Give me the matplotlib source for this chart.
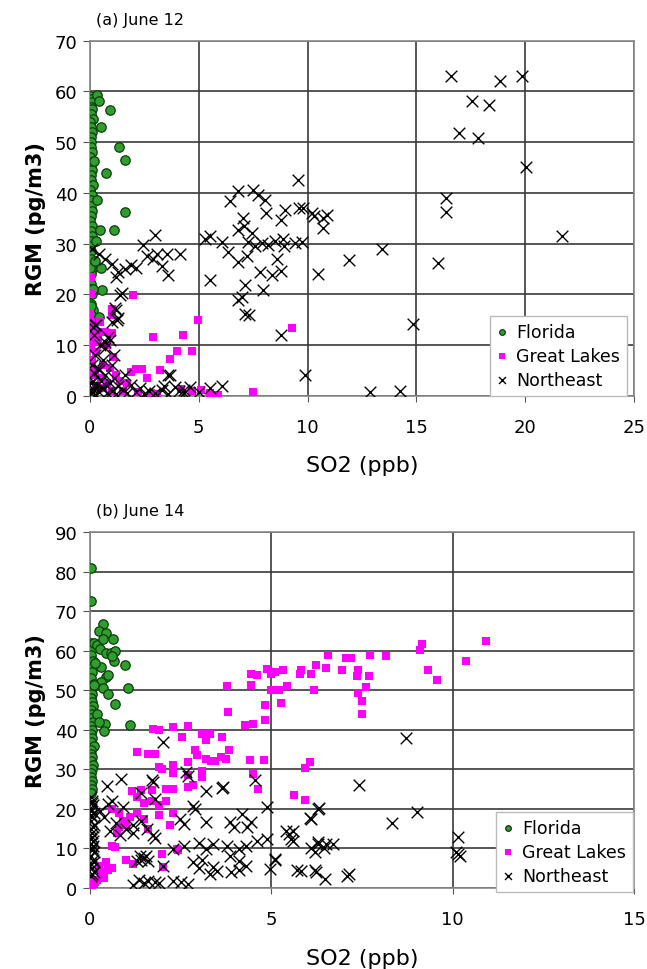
import matplotlib
matplotlib.use("Agg")
import matplotlib.pyplot as plt

# ---------------- data: (a) June 12 ----------------
a_fl_x = [0.02, 0.05, 0.1, 0.03, 0.08, 0.04, 0.12, 0.02, 0.06, 0.1, 0.03, 0.07, 0.05, 0.11, 0.02, 0.08,
          0.04, 0.1, 0.03, 0.06, 0.12, 0.02, 0.09, 0.05, 0.03, 0.1, 0.06, 0.02, 0.08, 0.04, 0.11, 0.05,
          0.02, 0.07, 0.03, 0.1, 0.04, 0.06, 0.02, 0.08, 0.05, 0.12, 0.03, 0.07,
          0.31, 0.43, 0.92, 0.5, 1.33, 1.61, 0.72, 0.31, 1.61, 0.2, 0.46, 1.1, 0.3, 0.0, 0.5, 0.57,
          0.05, 0.41, 0.15, 0.25]
a_fl_y = [59, 58.5, 58, 57, 56.5, 55.5, 54.5, 54, 53, 52, 51, 50, 49, 48, 47, 46,
          45.5, 44.5, 43.5, 42.5, 41.5, 40.5, 39.5, 38.5, 37.5, 36.5, 35.5, 34.5, 33.5, 32.5, 31.5, 30.5,
          29.5, 28.5, 27, 25, 24, 22, 21, 20, 18, 17, 16, 15,
          59.2, 58.2, 56.3, 52.9, 49.1, 46.5, 44.0, 38.6, 36.3, 46.2, 32.7, 32.7, 30.6, 25.1, 25.1, 20.8,
          17.6, 15.6, 21, 26.5]

a_gl_x = [0.05, 0.05, 1.99, 0.02, 0.05, 0.46, 1.0, 1.0, 0.05, 0.4, 0.7, 1.0, 0.03, 0.3, 1.07, 0.1,
          0.62, 1.2, 1.9, 2.1, 2.4, 2.6, 3.2, 2.88, 4.26, 4.98, 3.98, 4.7, 3.68, 9.27, 7.5, 5.9,
          5.5, 5.1, 0.3, 0.6, 1.0, 1.5, 2.2, 2.8, 3.1, 4.2, 4.7, 0.15, 0.5, 0.8, 0.2, 0.8, 0.12, 0.9,
          0.35, 0.25, 1.4, 1.7]
a_gl_y = [23.5, 20.2, 19.8, 16.2, 14.6, 14.6, 15.9, 17.1, 11.9, 12.5, 12.5, 12.3, 9.3, 8.6, 7.6, 7,
          6, 4, 4.7, 5.3, 5.3, 3.4, 5.1, 11.6, 11.9, 15, 8.8, 8.8, 7.3, 13.4, 0.7, 0.1,
          0.5, 1.2, 2, 1.5, 1, 1, 0.8, 0.5, 0.3, 1.3, 1, 4, 3.5, 2.5, 10.5, 10, 13, 5.5,
          11, 5, 3, 2.5]

a_ne_x = [16.58, 18.84, 19.87, 17.54, 18.32, 16.97, 17.82, 20.02, 16.36, 16.36, 21.7, 16.0, 13.4, 11.9,
          10.5, 14.86, 9.88, 12.87, 14.25, 10.72, 10.88, 10.19, 9.6, 10.7, 9.73,
          9.57, 6.82, 7.5, 7.7, 8.04, 6.43, 8.1, 8.96, 9.8, 10.3, 8.8, 7.05, 7.1, 6.8, 7.43, 5.28, 5.5,
          6.05, 6.36, 7.27, 7.6, 7.9, 8.2, 8.5, 8.85, 8.9, 9.4, 6.82, 7.2, 7.81, 8.35, 8.8, 8.6,
          5.51, 7.12, 7.96, 6.82, 7.12, 8.8, 7.0, 7.3,
          0.08, 0.4, 0.69, 1.0, 1.3, 1.2, 1.6, 1.9, 2.1, 2.45, 2.99, 2.6, 2.9, 3.1, 3.52, 4.14, 3.3, 3.6,
          1.46, 1.38, 1.15, 1.3, 0.23, 0.7, 0.85, 1.0, 1.6, 3.6, 3.4, 1.23, 1.2, 1.1,
          0.05, 0.1, 0.15, 0.2, 0.1, 0.3, 0.4, 0.5, 0.6, 0.7, 0.8, 0.9, 1.0, 1.1, 1.2, 1.3, 1.5, 1.7,
          1.9, 2.1, 2.3, 2.5, 2.7, 3.0, 3.3, 3.6, 3.9, 4.3, 4.6, 5.0, 5.5, 6.05, 3.68, 4.1, 4.3, 0.25,
          0.45, 0.7, 0.2, 0.3, 0.9, 1.0, 0.15, 0.35, 0.6, 0.05, 0.25, 0.5, 0.15, 0.4]
a_ne_y = [63.0, 62.0, 63.1, 58.2, 57.4, 51.9, 50.8, 45.1, 38.9, 36.3, 31.4, 26.1, 29.0, 26.7,
          24.1, 14.2, 4.0, 0.7, 1.0, 33.0, 35.6, 36, 37, 35, 30.4,
          42.5, 40.3, 40.6, 39.5, 38.6, 38.3, 36, 36.6, 37, 35.5, 34.6, 35, 33.4, 32.7, 32, 31, 31.4,
          30.4, 28.4, 30.4, 29.5, 30.2, 29.8, 30.5, 31, 29.6, 30.2, 26.4, 27.5, 24.4, 23.8, 24.5, 27,
          22.8, 21.8, 20.8, 18.8, 16.2, 11.9, 19.4, 15.9,
          29, 28, 27, 26, 24.4, 23.5, 25, 25.8, 25.2, 29.7, 31.7, 27.5, 27, 28, 28, 28, 25.5, 23.8,
          20.2, 19.8, 17.2, 15.4, 13.9, 10.5, 11.5, 6, 4, 4, 2, 14.9, 17, 8,
          0.5, 1.5, 3, 4.5, 6, 2, 0.8, 3, 1.5, 4, 0.5, 2.5, 1, 3.5, 0.3, 2, 1.2, 0.5,
          2.2, 0.8, 1.5, 0.3, 1, 0.5, 1.2, 0.3, 1.8, 0.6, 1.7, 0.8, 1.5, 2, 4, 1, 1.2, 8,
          10, 9.5, 12, 14, 11, 14.5, 13.5, 5.5, 7, 2.5, 0.2, 1.8, 0.8, 5]

# ---------------- data: (b) June 14 ----------------
b_fl_x = [0.02, 0.05, 0.03, 0.08, 0.02, 0.06, 0.04, 0.1, 0.03, 0.07, 0.02, 0.05, 0.08, 0.03, 0.06,
          0.02, 0.09, 0.04, 0.05, 0.02, 0.07, 0.03, 0.1, 0.04, 0.02, 0.06, 0.03, 0.08, 0.05, 0.02,
          0.04, 0.07, 0.03, 0.05, 0.02,
          0.02, 0.02, 0.37, 0.25, 0.45, 0.12, 0.2, 0.35, 0.64, 0.27, 0.45, 0.58, 0.67, 0.3, 0.15,
          0.96, 0.43, 0.3, 0.1, 0.35, 1.06, 0.5, 0.69, 0.2, 1.1, 0.41, 0.4, 0.25, 0.69, 0.6, 0.5]
b_fl_y = [62, 60.5, 59, 57.5, 56, 54.5, 53, 51.5, 50, 49, 48, 47, 46, 45, 44,
          43, 42, 41, 40, 39, 38, 37, 36, 35, 34, 33, 32, 31, 30, 29,
          28, 27, 26, 25, 24,
          81, 72.6, 66.7, 65, 64.5, 62, 61.5, 63, 63, 60.5, 59.5, 59.5, 57.5, 56, 57,
          56.3, 53.3, 52, 51.3, 50.5, 50.6, 49, 46.6, 44, 41.3, 41.5, 39.8, 42, 60, 58.6, 53.8]

b_gl_x = [10.93, 9.16, 9.09, 10.38, 9.32, 9.57, 8.17, 7.71, 7.2, 7.05, 6.55, 6.24, 6.5, 6.96, 7.4,
          7.37, 7.7, 7.6, 7.4, 7.51, 7.51, 5.83, 6.1, 5.8, 5.33, 5.1, 5.44, 5.2, 6.17, 5.28, 6.08,
          5.94, 5.62, 5.92,
          4.87, 4.45, 4.6, 4.99, 3.77, 4.43, 5.0, 4.82, 3.81, 4.27, 4.5, 4.82, 1.74, 1.9, 2.3, 2.71,
          2.55, 3.1, 3.3, 3.2, 3.65, 3.83, 2.89, 3.2, 3.35, 3.45, 3.6, 3.75, 2.95, 1.29, 1.6, 1.8,
          2.71, 4.41, 4.8, 1.9, 2.0, 2.3, 2.3, 2.7, 3.1, 3.1, 4.5, 4.64,
          1.15, 1.4, 1.7, 2.1, 2.3, 2.7, 2.85, 1.3, 1.5, 1.7, 1.9, 2.1, 0.6, 0.8,
          0.9, 1.1, 0.8, 1.0, 1.3, 1.5, 1.6, 1.9, 2.2, 2.3, 0.74, 0.61, 2.39, 2.0, 2.43, 2.02, 0.69,
          0.2, 0.35, 0.1, 0.05, 0.5, 0.15, 0.3, 0.4, 0.25, 0.6, 1.2, 1.0, 0.45]
b_gl_y = [62.4, 61.8, 60.1, 57.3, 55.0, 52.7, 58.6, 59, 58.2, 58.2, 59, 56.3, 55.5, 55.2, 55.1,
          53.7, 53.5, 50.8, 49.3, 47.2, 43.9, 55, 54, 54, 55, 54.5, 51.1, 50, 50, 46.8, 31.8,
          30.3, 23.5, 22.3,
          55.4, 54.2, 53.8, 54, 51, 51.2, 50, 46.2, 44.5, 41.1, 41.5, 42.4, 40.3, 40, 40.7, 40.9,
          38.3, 39, 39, 37.5, 38.1, 34.8, 34.8, 32.5, 32, 32.2, 33, 32.5, 33.5, 34.3, 34, 34,
          31.8, 32.4, 32.4, 30.5, 30, 31, 29, 28.5, 29.5, 28, 28.9, 25,
          24.6, 24.8, 24.8, 25, 25, 25.5, 26, 23, 21.5, 22, 21, 22, 20, 19,
          17, 18, 15.5, 16, 19, 17.5, 15, 18.5, 16, 19, 14, 10.7, 9.9, 8.5, 9.7, 5.3, 10.4,
          2, 3, 1, 0.5, 4.5, 1.5, 4, 2.5, 5.5, 5, 6, 7, 6.5]

b_ne_x = [8.7, 7.42, 6.31, 6.06, 9.03, 8.33, 10.15, 10.15, 10.2, 10.1, 5.4, 5.6, 5.6, 6.3, 6.5, 6.7,
          6.2, 6.45, 5.1, 5.7, 6.24, 6.47, 7.14, 7.1, 5.83, 6.29, 6.1,
          2.02, 0.46, 0.87, 1.7, 2.71, 3.21, 3.67, 4.55, 1.8, 1.4, 4.87, 4.18, 6.1, 6.3, 2.85, 2.9,
          2.48, 2.6, 3.21, 3.86, 3.96, 4.32, 4.45, 4.87, 5.5, 5.55, 1.74, 2.66, 3.63,
          0.5, 0.6, 0.9, 0.27, 0.38, 0.73, 1.2, 1.4, 1.0, 0.55, 0.83, 1.2, 1.56, 1.74, 1.8, 1.38,
          1.5, 1.55, 1.3, 1.4, 1.6, 2.02, 2.85, 3.1, 3.0, 3.4, 3.86, 4.1, 4.3, 3.9, 4.1, 3.5, 3.3,
          4.96, 5.1, 6.2, 1.2, 1.35, 1.5, 1.6, 1.8, 1.9, 2.3, 2.5, 2.7, 2.3, 2.6, 3.0, 3.2, 3.4,
          3.77, 4.1, 4.3, 4.6,
          0.02, 0.05, 0.08, 0.03, 0.1, 0.06, 0.04, 0.12, 0.02, 0.07, 0.05, 0.09, 0.03, 0.06, 0.1,
          0.04, 0.08, 0.02, 0.05, 0.11, 0.03, 0.07, 0.04, 0.09, 0.02, 0.06, 0.1, 0.05, 0.03, 0.08]
b_ne_y = [37.9, 26.1, 20.2, 17.6, 19.3, 16.4, 12.8, 8.6, 8.2, 9.0, 14.4, 14.4, 11.9, 11, 11, 11,
          9, 10, 7.3, 4.6, 4, 2.3, 3.5, 3, 4.4, 11.6, 10,
          36.9, 25.9, 27.6, 27.2, 28.4, 24.6, 25.5, 27.2, 22.6, 24, 20.4, 18.7, 17.5, 20, 20.8, 20,
          17.5, 16.3, 16.6, 16.6, 15.3, 15.4, 16.6, 12.4, 13.7, 12.5, 26.8, 29.3, 25.4,
          21.3, 21.9, 20.4, 19.5, 17.9, 16.4, 16, 17, 14.9, 14.3, 13.5, 14, 14.9, 13.5, 12.6, 8.2,
          7.5, 8, 6.8, 7, 6.8, 5.6, 6.5, 7.1, 5.1, 5.3, 8.2, 6.8, 5.5, 4, 4.5, 4.2, 3.5,
          4.8, 7.2, 4.6, 0.7, 2, 1.2, 1.8, 1.5, 1.2, 1.7, 1.5, 1, 9.9, 10.5, 11.3, 9.9, 11,
          10.7, 9.9, 10.7, 12,
          23, 22, 21, 20, 19, 18, 17, 16, 15, 14, 13, 12, 11, 10, 9,
          8, 7, 6, 5, 4, 3, 21.5, 18.5, 15.5, 12.5, 9.5, 6.5, 3.5, 19.5, 10.5]

# ---------------- plotting ----------------
fig = plt.figure(figsize=(6.47, 9.7), dpi=100)

panels = [
    ("(a) June 12", [0.139, 0.591, 0.841, 0.366], a_fl_x, a_fl_y, a_gl_x, a_gl_y, a_ne_x, a_ne_y,
     (0, 25), range(0, 26, 5), (0, 70), range(0, 71, 10), (0.987, 0.0)),
    ("(b) June 14", [0.139, 0.0835, 0.841, 0.367], b_fl_x, b_fl_y, b_gl_x, b_gl_y, b_ne_x, b_ne_y,
     (0, 15), range(0, 16, 5), (0, 90), range(0, 91, 10), (0.998, -0.011)),
]

for title, pos, flx, fly, glx, gly, nex, ney, xl, xt, yl, yt, leg_anchor in panels:
    ax = fig.add_axes(pos)
    ax.set_axisbelow(True)
    ax.grid(True, color="#3a3a3a", linewidth=1.2)
    ax.scatter(flx, fly, s=46, marker="o", color="#2f9e2f", edgecolors="#0d3d0d",
               linewidths=0.9, label="Florida", zorder=3)
    ax.scatter(glx, gly, s=38, marker="s", color="#ff00ff", linewidths=0,
               label="Great Lakes", zorder=3)
    ax.scatter(nex, ney, s=70, marker="x", color="black", linewidths=1.0,
               label="Northeast", zorder=4)
    ax.set_xlim(xl)
    ax.set_ylim(yl)
    ax.set_xticks(list(xt))
    ax.set_yticks(list(yt))
    ax.tick_params(axis="x", length=4, pad=12, labelsize=13, color="#555555")
    ax.tick_params(axis="y", length=5, pad=4, labelsize=13, color="#555555")
    for sp in ax.spines.values():
        sp.set_color("#888888")
        sp.set_linewidth(1.2)
    ax.set_ylabel("RGM (pg/m3)", fontsize=15, fontweight="bold", labelpad=6)
    ax.set_xlabel("SO2 (ppb)", fontsize=16, labelpad=14)
    ax.text(0.012, 1.04, title, transform=ax.transAxes, fontsize=11.5, va="bottom", ha="left")
    leg = ax.legend(loc="lower right", bbox_to_anchor=leg_anchor, fontsize=12.5,
                    frameon=True, fancybox=False, edgecolor="#bbbbbb", framealpha=1,
                    handlelength=0.6, handletextpad=0.5, borderpad=0.4, labelspacing=0.35,
                    markerscale=0.6, borderaxespad=0)
    leg.get_frame().set_linewidth(1.0)

fig.savefig("out.png", dpi=100)
